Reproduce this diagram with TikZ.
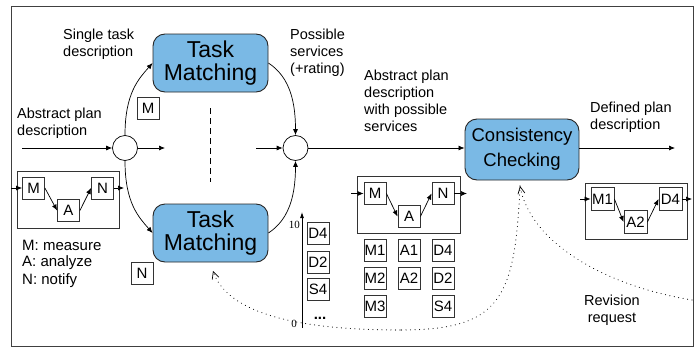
\documentclass[tikz,border=0pt]{standalone}
\usepackage{fontspec}
\setmainfont{Liberation Sans}
\newfontfamily\numfont{Liberation Serif}
\usetikzlibrary{arrows.meta}
\definecolor{tmblue}{RGB}{122,185,229}
\begin{document}
\begin{tikzpicture}[x=1pt,y=-1pt,
  proc/.style={draw=black!85, fill=tmblue, rounded corners=12pt, line width=0.9pt,
    minimum width=115pt, minimum height=58pt, align=center, inner sep=0pt},
  sbox/.style={draw=black!80, fill=white, line width=0.8pt, minimum size=22pt, inner sep=0pt,
    font=\fontsize{15}{15}\selectfont},
  planbox/.style={draw=black!80, line width=0.9pt},
  lbl/.style={font=\fontsize{14.5}{17}\selectfont, align=left, inner sep=0pt},
  arr/.style={-{Latex[length=6pt,width=5pt]}, line width=0.7pt},
  junc/.style={circle, draw, fill=white, minimum size=25pt, inner sep=0pt, line width=0.7pt},
  dots/.style={line width=1.1pt, dash pattern=on 0.01pt off 4.5pt, line cap=round},
  openarr/.style={-{Straight Barb[length=7pt,width=7pt,line width=0.7pt]}}
]
\useasboundingbox (0,0) rectangle (699,348);
\draw[black!75, line width=1pt] (11,6) rectangle (693,346);

% main process boxes
\node[proc, font=\fontsize{23}{23}\selectfont] (tm1) at (210.5,63) {Task\\Matching};
\node[proc, font=\fontsize{23}{23}\selectfont] (tm2) at (210.5,233) {Task\\Matching};
\node[proc, minimum width=114pt, minimum height=61pt, font=\fontsize{18.5}{25}\selectfont] (cc) at (522,149.5) {Consistency\\Checking};

% junctions
\node[junc] (cL) at (125,148) {};
\node[junc] (cR) at (295.5,148) {};

\coordinate (inL) at (22,148);
\coordinate (outL) at (165,148);
\coordinate (inR) at (256,148);
\coordinate (outCC) at (675,148);

\draw[arr] (inL) -- (cL);
\draw[arr] (cL) -- (outL);
\draw[arr] (inR) -- (cR);
\draw[arr] (cR) -- (cR -| cc.west);
\draw[arr] (cc.east |- outCC) -- (outCC);

\draw[arr] (cL.north) .. controls +(0,-42) and +(-14,16) .. (tm1.west);
\draw[arr] (cL.south) .. controls +(0,42) and +(-14,-16) .. (tm2.west);
\draw[arr] (tm1.east) .. controls +(18,12) and +(0,-40) .. (cR.north);
\draw[arr] (tm2.east) .. controls +(18,-12) and +(0,40) .. (cR.south);

% dashed separator
\coordinate (dsA) at (210,108);
\coordinate (dsB) at (210,182);
\draw[line width=0.7pt, dash pattern=on 6pt off 4pt] (dsA) -- (dsB);

% single task boxes
\node[sbox] (tM) at (148,108) {M};
\node[sbox] (tN) at (142,273) {N};

% left plan
\draw[planbox] (17,171) rectangle (119,228);
\node[sbox] (lM) at (33.5,188) {M};
\node[sbox] (lA) at (68.5,210.5) {A};
\node[sbox] (lN) at (102.5,188) {N};
\coordinate (lin) at (11,188);
\coordinate (lout) at (124,188);
\draw[arr] (lin) -- (lM);
\draw[arr] (lM.east) -- (lA.west);
\draw[arr] (lA.east) -- (lN.west);
\draw[arr] (lN) -- (lout);

\node[lbl, font=\fontsize{15}{17}\selectfont, anchor=west] (lg1) at (22,245) {M: measure};
\node[lbl, font=\fontsize{15}{17}\selectfont, anchor=west] (lg2) at (22,263) {A: analyze};
\node[lbl, font=\fontsize{15}{17}\selectfont, anchor=west] (lg3) at (22,280.5) {N: notify};

% labels
\node[lbl, anchor=west] (l1) at (63,44) {Single task\\description};
\node[lbl, anchor=west] (l2) at (17,123.5) {Abstract plan\\description};
\node[lbl, anchor=west] (l3) at (290,52.5) {Possible\\services\\(+rating)};
\node[lbl, anchor=west] (l4) at (364,101) {Abstract plan\\description\\with possible\\services};
\node[lbl, anchor=west] (l5) at (590,117.5) {Defined plan\\description};
\node[lbl, align=center] (l6) at (612,310.5) {Revision\\request};

% middle plan
\draw[planbox] (357,176) rectangle (460,233);
\node[sbox] (mM) at (375,193.5) {M};
\node[sbox] (mA) at (409,216.5) {A};
\node[sbox] (mN) at (443,193.5) {N};
\coordinate (min) at (351,193.5);
\coordinate (mout) at (467,193.5);
\draw[arr] (min) -- (mM);
\draw[arr] (mM.east) -- (mA.west);
\draw[arr] (mA.east) -- (mN.west);
\draw[arr] (mN) -- (mout);

% candidate services
\node[sbox] (s11) at (375,250) {M1};
\node[sbox] (s12) at (409,250) {A1};
\node[sbox] (s13) at (443,250) {D4};
\node[sbox] (s21) at (375,278) {M2};
\node[sbox] (s22) at (409,278) {A2};
\node[sbox] (s23) at (443,278) {D2};
\node[sbox] (s31) at (375,306) {M3};
\node[sbox] (s33) at (443,306) {S4};

% ranking
\coordinate (axB) at (302,328);
\coordinate (axT) at (302,212);
\draw[-{Latex[length=6pt,width=4pt]}, line width=0.8pt] (axB) -- (axT);
\node[font=\numfont\fontsize{11}{11}\selectfont, anchor=east, inner sep=0pt] (n10) at (300,224.5) {10};
\node[font=\numfont\fontsize{11}{11}\selectfont, anchor=east, inner sep=0pt] (n0) at (297,324) {0};
\node[sbox] (r1) at (318,233) {D4};
\node[sbox] (r2) at (318,262) {D2};
\node[sbox] (r3) at (318,289.5) {S4};
\node[font=\fontsize{15}{15}\selectfont\bfseries, inner sep=0pt] (rdots) at (320,318) {...};

% right plan
\draw[planbox] (585,183) rectangle (687,239);
\node[sbox, minimum size=23pt] (rM) at (602.5,199) {M1};
\node[sbox, minimum size=23pt] (rA) at (635.5,222) {A2};
\node[sbox, minimum size=23pt] (rD) at (670.5,199) {D4};
\coordinate (rin) at (580,199);
\coordinate (rout) at (692,199);
\draw[arr] (rin) -- (rM);
\draw[arr] (rM.east) -- (rA.west);
\draw[arr] (rA.east) -- (rD.west);
\draw[arr] (rD) -- (rout);

% revision request (dotted)
\coordinate (rev) at (692,300);
\coordinate (ccArr) at (520,186);
\coordinate (low) at (400,330);
\coordinate (tmArr) at (213,271);
\draw[dots, openarr] (rev) .. controls (600,285) and (530,240) .. (ccArr);
\draw[dots] (ccArr) .. controls (515,300) and (500,330) .. (low);
\draw[dots, openarr] (low) .. controls (320,330) and (230,320) .. (tmArr);
\end{tikzpicture}
\end{document}
